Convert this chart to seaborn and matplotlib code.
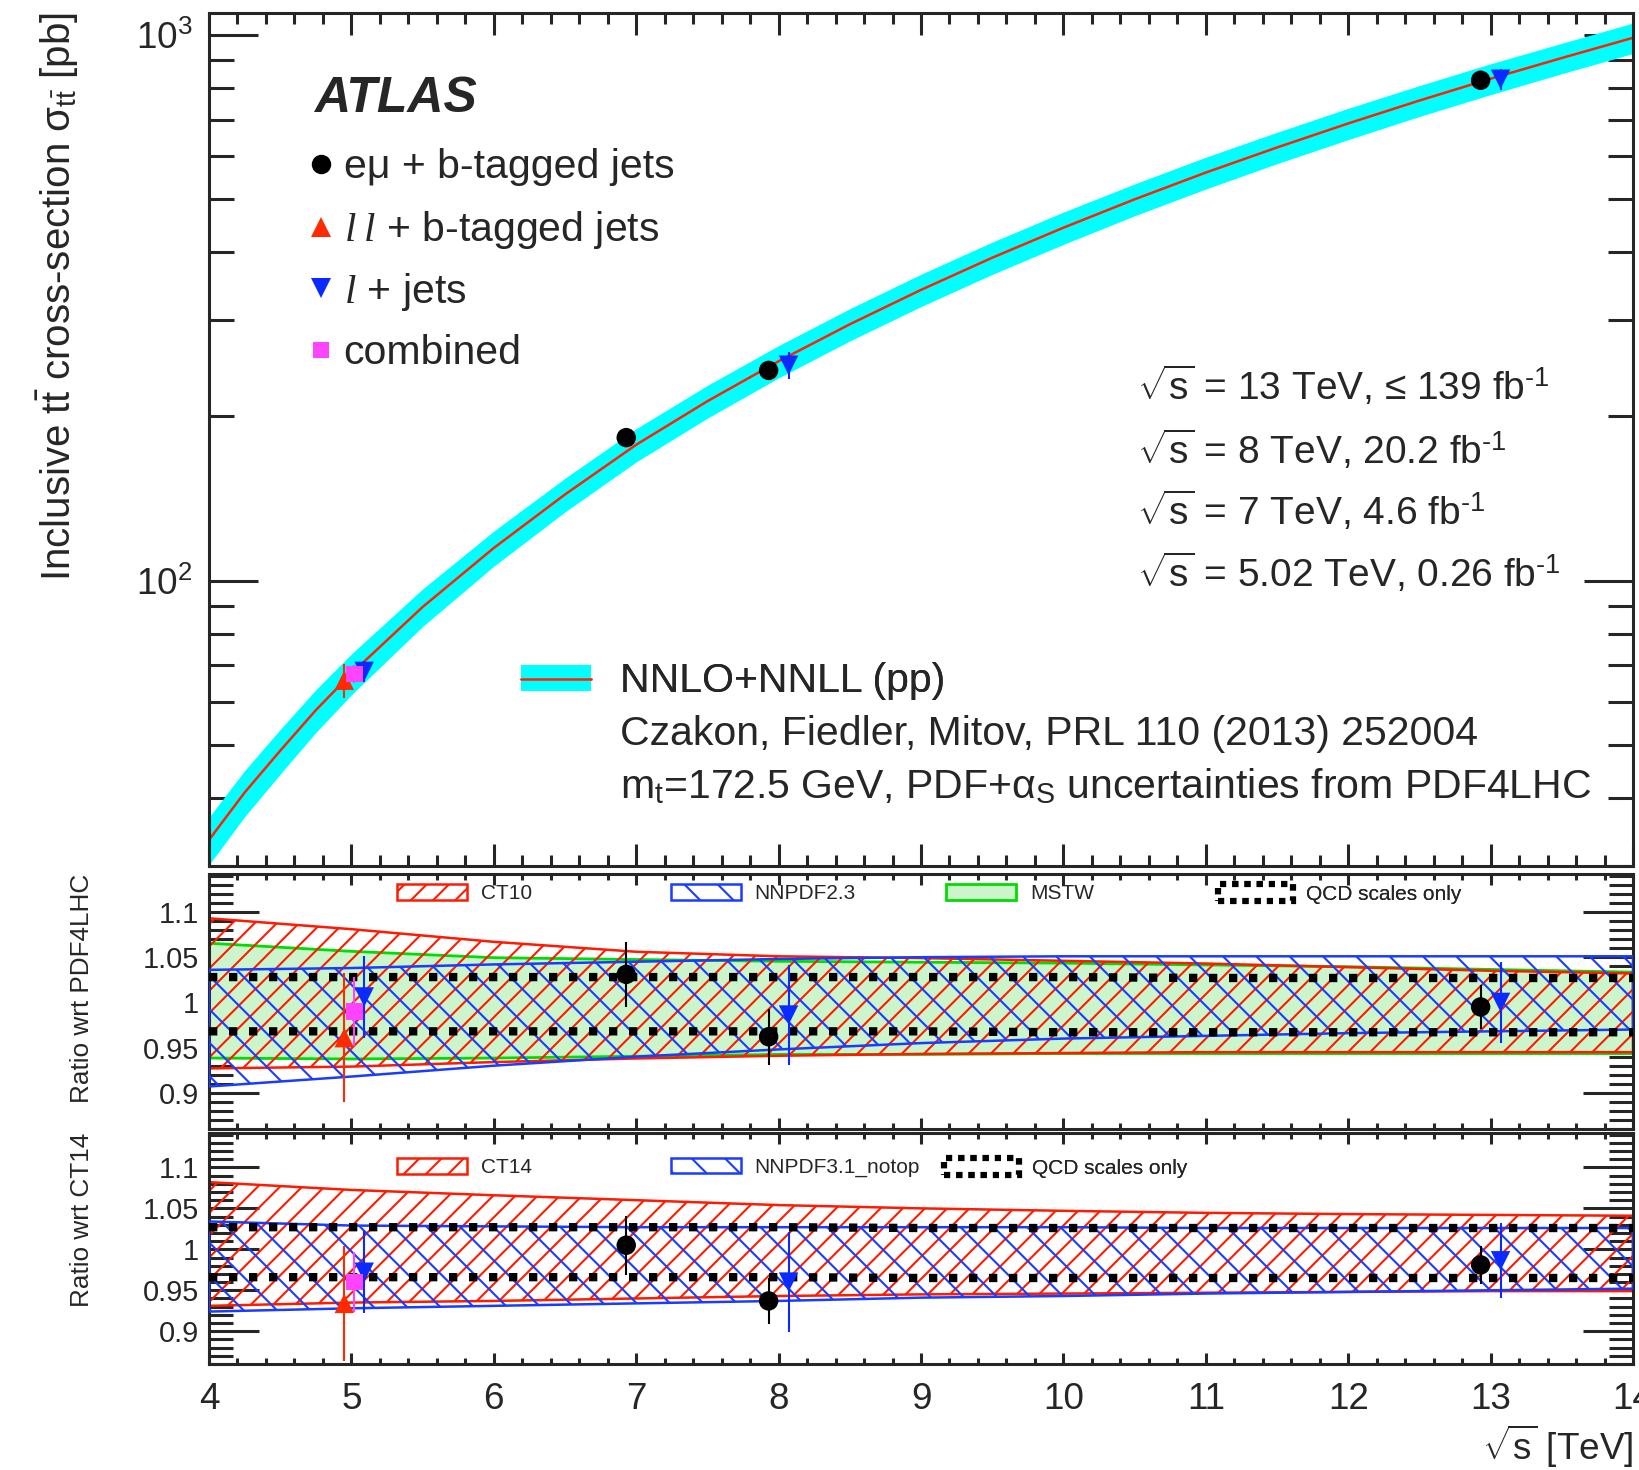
import matplotlib
matplotlib.use("Agg")
import matplotlib.pyplot as plt
import seaborn as sns
import numpy as np
import pandas as pd
from matplotlib.lines import Line2D
from matplotlib.patches import Patch
from matplotlib.legend_handler import HandlerTuple
from matplotlib.ticker import (LogLocator, MultipleLocator, FixedLocator,
                               NullFormatter, FuncFormatter)

# ------------------------------------------------------------------ data
theory_sqrts = [4.0, 4.25, 4.5, 4.75, 5.0, 5.5, 6.0, 6.5, 7.0, 7.5, 8.0, 8.5, 9.0,
                9.5, 10.0, 10.5, 11.0, 11.5, 12.0, 12.5, 13.0, 13.5, 14.0]
theory_xsec = [33.5, 40.9, 48.8, 57.9, 67.6, 89.5, 114.8, 143.9, 177.5, 213.3,
               252.5, 295.1, 341.2, 390.8, 443.6, 500.0, 559.8, 622.3, 688.7,
               758.6, 831.8, 907.8, 988.6]
theory_rel_unc = [0.100, 0.097, 0.094, 0.090, 0.086, 0.079, 0.074, 0.071, 0.070,
                  0.069, 0.068, 0.068, 0.068, 0.068, 0.068, 0.067, 0.067, 0.066,
                  0.066, 0.065, 0.065, 0.064, 0.064]

emu_sqrts = [7.0, 8.0, 13.0]
emu_xsec = [182.9, 242.9, 826.4]
emu_xsec_err = [6.6, 7.6, 20.0]
emu_ratio_pdf4lhc = [1.031, 0.962, 0.995]
emu_ratio_pdf4lhc_err = [0.036, 0.031, 0.024]
emu_ratio_ct14 = [1.005, 0.937, 0.981]
emu_ratio_ct14_err = [0.036, 0.028, 0.023]

ll_sqrts = [5.02]
ll_xsec = [65.7]
ll_xsec_err = [4.7]
ll_ratio_pdf4lhc = [0.961]
ll_ratio_pdf4lhc_err = [0.071]
ll_ratio_ct14 = [0.934]
ll_ratio_ct14_err = [0.070]

ljets_sqrts = [5.02, 8.0, 13.0]
ljets_xsec = [68.2, 248.3, 830.0]
ljets_xsec_err = [3.1, 13.7, 37.0]
ljets_ratio_pdf4lhc = [1.006, 0.986, 1.000]
ljets_ratio_pdf4lhc_err = [0.045, 0.055, 0.045]
ljets_ratio_ct14 = [0.972, 0.960, 0.986]
ljets_ratio_ct14_err = [0.050, 0.061, 0.046]

comb_sqrts = [5.02]
comb_xsec = [67.5]
comb_xsec_err = [2.6]
comb_ratio_pdf4lhc = [0.990]
comb_ratio_pdf4lhc_err = [0.038]
comb_ratio_ct14 = [0.960]
comb_ratio_ct14_err = [0.037]

band_sqrts = [4, 5, 6, 7, 8, 9, 10, 11, 12, 13, 14]
# ratio wrt PDF4LHC
ct10_hi = [1.093, 1.081, 1.067, 1.056, 1.051, 1.049, 1.046, 1.043, 1.039, 1.035, 1.032]
ct10_lo = [0.927, 0.929, 0.934, 0.938, 0.941, 0.943, 0.944, 0.945, 0.945, 0.945, 0.945]
nnpdf23_hi = [1.036, 1.038, 1.042, 1.045, 1.048, 1.050, 1.051, 1.051, 1.051, 1.051, 1.051]
nnpdf23_lo = [0.907, 0.918, 0.930, 0.940, 0.948, 0.955, 0.960, 0.963, 0.966, 0.968, 0.970]
mstw_hi = [1.066, 1.057, 1.050, 1.048, 1.046, 1.045, 1.044, 1.042, 1.040, 1.037, 1.034]
mstw_lo = [0.939, 0.938, 0.939, 0.941, 0.943, 0.943, 0.944, 0.944, 0.944, 0.944, 0.944]
qcd1_hi = [1.028, 1.028, 1.028, 1.028, 1.028, 1.028, 1.028, 1.027, 1.027, 1.027, 1.027]
qcd1_lo = [0.968, 0.968, 0.968, 0.968, 0.968, 0.968, 0.967, 0.967, 0.967, 0.967, 0.967]
# ratio wrt CT14
ct14_hi = [1.082, 1.0725, 1.066, 1.060, 1.054, 1.050, 1.047, 1.0445, 1.043, 1.042, 1.041]
ct14_lo = [0.931, 0.935, 0.937, 0.940, 0.943, 0.945, 0.946, 0.947, 0.948, 0.949, 0.949]
nnpdf31_hi = [1.034, 1.029, 1.028, 1.027, 1.027, 1.027, 1.027, 1.026, 1.026, 1.026, 1.026]
nnpdf31_lo = [0.924, 0.928, 0.931, 0.934, 0.937, 0.941, 0.943, 0.946, 0.948, 0.950, 0.952]
qcd2_hi = [1.027, 1.027, 1.027, 1.027, 1.027, 1.026, 1.026, 1.026, 1.026, 1.026, 1.026]
qcd2_lo = [0.966, 0.966, 0.966, 0.966, 0.966, 0.965, 0.965, 0.965, 0.965, 0.965, 0.965]

# ------------------------------------------------------------------ style
CYAN = "#00ffff"
THRED = "#ff2200"
RED = "#ff2a00"
BLUE = "#0a2aff"
MAG = "#ff44ff"
HRED = "#ff1a00"
HBLUE = "#1a3cff"
GREEN = "#00dd00"
LGREEN = "#ccf5cc"
RED_HATCH = "///"
BLUE_HATCH = "\\\\"

offsets = {"emu": -0.07, "ll": -0.07, "ljets": 0.07, "comb": 0.0}
mstyle = {
    "emu": dict(marker="o", color="black", ms=7.0),
    "ll": dict(marker="^", color=RED, ms=7.0),
    "ljets": dict(marker="v", color=BLUE, ms=7.0),
    "comb": dict(marker="s", color=MAG, ms=6.0),
}

sns.set_theme(style="ticks")
plt.rcParams["font.family"] = ["Liberation Sans", "DejaVu Sans"]
plt.rcParams["mathtext.fontset"] = "custom"
plt.rcParams["mathtext.rm"] = "Liberation Sans"
plt.rcParams["mathtext.it"] = "Liberation Serif:italic"
plt.rcParams["mathtext.bf"] = "Liberation Sans:bold"
plt.rcParams["hatch.linewidth"] = 0.75
plt.rcParams["axes.linewidth"] = 1.1

DPI = 200
fig = plt.figure(figsize=(1639 / DPI, 1470 / DPI), dpi=DPI)
L, W = 209 / 1639, 1424 / 1639
ax0 = fig.add_axes([L, 1 - 866 / 1470, W, (866 - 12.5) / 1470])
ax1 = fig.add_axes([L, 1 - 1129 / 1470, W, 255 / 1470])
ax2 = fig.add_axes([L, 1 - 1364 / 1470, W, 231 / 1470])


def draw_points(ax, xs, ys, errs, key):
    st = mstyle[key]
    x = np.asarray(xs, dtype=float) + offsets[key]
    ax.errorbar(x, ys, yerr=errs, fmt="none", ecolor=st["color"],
                elinewidth=0.75, capsize=0, zorder=5)
    sns.scatterplot(x=x, y=ys, ax=ax, marker=st["marker"], s=st["ms"] ** 2,
                    color=st["color"], edgecolor="none", linewidth=0,
                    zorder=6, legend=False)


# ------------------------------------------------------------------ main panel
ax0.set_yscale("log")
th = pd.DataFrame({"sqrts": theory_sqrts, "xsec": theory_xsec,
                   "rel": theory_rel_unc})
ax0.fill_between(th["sqrts"], th["xsec"] * (1 - th["rel"]),
                 th["xsec"] * (1 + th["rel"]), color=CYAN, lw=0, zorder=1)
sns.lineplot(data=th, x="sqrts", y="xsec", ax=ax0, color=THRED, lw=0.9,
             zorder=2, sort=True)

draw_points(ax0, emu_sqrts, emu_xsec, emu_xsec_err, "emu")
draw_points(ax0, ll_sqrts, ll_xsec, ll_xsec_err, "ll")
draw_points(ax0, ljets_sqrts, ljets_xsec, ljets_xsec_err, "ljets")
draw_points(ax0, comb_sqrts, comb_xsec, comb_xsec_err, "comb")

ax0.set_xlim(4, 14)
ax0.set_ylim(30, 1100)
ax0.yaxis.set_major_locator(LogLocator(base=10, numticks=10))
ax0.yaxis.set_minor_locator(LogLocator(base=10, subs=np.arange(2, 10), numticks=20))
ax0.yaxis.set_minor_formatter(NullFormatter())
ax0.xaxis.set_major_locator(MultipleLocator(1))
ax0.xaxis.set_minor_locator(MultipleLocator(0.2))
ax0.tick_params(axis="y", which="major", direction="in", length=17.6, width=1.1,
                left=True, right=True, labelsize=13.3, pad=6)
ax0.tick_params(axis="y", which="minor", direction="in", length=9, width=1.1,
                left=True, right=True)
ax0.tick_params(axis="x", which="major", direction="in", length=7.9, width=1.1,
                top=True, bottom=True, labelbottom=False)
ax0.tick_params(axis="x", which="minor", direction="in", length=4, width=1.1,
                top=True, bottom=True)
ax0.set_xlabel("")
ax0.set_ylabel(r"Inclusive $\mathrm{t\bar{t}}$ cross-section σ$_{\mathrm{t\bar{t}}}$ [pb]",
               fontsize=14.5, loc="top")
ax0.yaxis.set_label_coords(-0.090, 1.0)

# ATLAS label and legend
ax0.text(0.0735, 0.8987, "ATLAS", transform=ax0.transAxes, fontsize=18,
         fontweight="bold", fontstyle="italic", va="center", ha="left")

main_entries = [
    ("emu", "eμ + b-tagged jets", 0.8188),
    ("ll", r"$\mathit{l\;l}$ + b-tagged jets", 0.7450),
    ("ljets", r"$\mathit{l}$ + jets", 0.6729),
    ("comb", "combined", 0.6009),
]
for key, lab, yy in main_entries:
    st = mstyle[key]
    h = Line2D([], [], ls="none", marker=st["marker"], color=st["color"],
               markersize=st["ms"], markeredgewidth=0)
    lg = ax0.legend([h], [lab], loc="center left", bbox_to_anchor=(0.070, yy),
                    bbox_transform=ax0.transAxes, frameon=False, borderpad=0,
                    borderaxespad=0, handlelength=0.6, handletextpad=0.25,
                    fontsize=14.75)
    ax0.add_artist(lg)

h_th = (Patch(facecolor=CYAN, edgecolor="none"),
        Line2D([], [], color=THRED, lw=0.9))
lg = ax0.legend([h_th], ["NNLO+NNLL (pp)"], loc="center left",
                bbox_to_anchor=(0.2188, 0.2162), bbox_transform=ax0.transAxes,
                frameon=False, borderpad=0, borderaxespad=0,
                handlelength=1.71, handleheight=0.63, handletextpad=0.72,
                fontsize=14.75, handler_map={tuple: HandlerTuple(ndivide=1)})
ax0.add_artist(lg)
ax0.text(0.2886, 0.1547, "Czakon, Fiedler, Mitov, PRL 110 (2013) 252004",
         transform=ax0.transAxes, fontsize=14.75, va="center", ha="left")
ax0.text(0.2886, 0.0937,
         r"m$_{\mathrm{t}}$=172.5 GeV, PDF+α$_{\mathrm{S}}$ uncertainties from PDF4LHC",
         transform=ax0.transAxes, fontsize=14.75, va="center", ha="left")

lumi_lines = [
    (r"$\sqrt{\mathrm{s}}$ = 13 TeV, ≤ 139 fb$^{\text{-1}}$", 0.5628),
    (r"$\sqrt{\mathrm{s}}$ = 8 TeV, 20.2 fb$^{\text{-1}}$", 0.488),
    (r"$\sqrt{\mathrm{s}}$ = 7 TeV, 4.6 fb$^{\text{-1}}$", 0.416),
    (r"$\sqrt{\mathrm{s}}$ = 5.02 TeV, 0.26 fb$^{\text{-1}}$", 0.3433),
]
for txt, yy in lumi_lines:
    ax0.text(0.6517, yy, txt, transform=ax0.transAxes, fontsize=14.0,
             va="center", ha="left")


# ------------------------------------------------------------------ ratio panels
def setup_ratio(ax, ylabel):
    ax.set_xlim(4, 14)
    ax.set_ylim(0.86, 1.142)
    ax.yaxis.set_major_locator(FixedLocator([0.9, 0.95, 1.0, 1.05, 1.1]))
    ax.yaxis.set_major_formatter(FuncFormatter(lambda v, p: f"{v:g}"))
    ax.yaxis.set_minor_locator(MultipleLocator(0.01))
    ax.xaxis.set_major_locator(MultipleLocator(1))
    ax.xaxis.set_minor_locator(MultipleLocator(0.2))
    ax.tick_params(axis="y", which="major", direction="in", length=18, width=1.1,
                   left=True, right=True, labelsize=10.4, pad=3.7)
    ax.tick_params(axis="y", which="minor", direction="in", length=8.5, width=1.1,
                   left=True, right=True)
    ax.tick_params(axis="x", which="major", direction="in", length=4.1, width=1.1,
                   top=True, bottom=True, labelsize=13.3, pad=6.5)
    ax.tick_params(axis="x", which="minor", direction="in", length=2.3, width=1.1,
                   top=True, bottom=True)
    ax.set_ylabel(ylabel, fontsize=9.4, loc="top")
    ax.yaxis.set_label_coords(-0.081, 1.0)
    ax.set_xlabel("")


def hatch_band(ax, lo, hi, color, hatch, z):
    ax.fill_between(band_sqrts, lo, hi, facecolor="none", edgecolor=color,
                    hatch=hatch, lw=0.9, zorder=z)


def qcd_lines(ax, lo, hi):
    for yy in (lo, hi):
        ax.plot(band_sqrts, yy, color="black", lw=3.0, ls=(0, (1, 1.4)),
                dash_capstyle="butt", zorder=4)


def small_legend(ax, handle, label, x, y, hl=3.37, hh=0.75):
    lg = ax.legend([handle], [label], loc="center left", bbox_to_anchor=(x, y),
                   bbox_transform=ax.transAxes, frameon=False, borderpad=0,
                   borderaxespad=0, handlelength=hl, handleheight=hh,
                   handletextpad=0.65, fontsize=7.5)
    ax.add_artist(lg)


# panel 1: wrt PDF4LHC
ax1.fill_between(band_sqrts, mstw_lo, mstw_hi, facecolor=LGREEN,
                 edgecolor=GREEN, lw=1.0, zorder=1)
hatch_band(ax1, ct10_lo, ct10_hi, HRED, RED_HATCH, 2)
hatch_band(ax1, nnpdf23_lo, nnpdf23_hi, HBLUE, BLUE_HATCH, 3)
qcd_lines(ax1, qcd1_lo, qcd1_hi)
draw_points(ax1, emu_sqrts, emu_ratio_pdf4lhc, emu_ratio_pdf4lhc_err, "emu")
draw_points(ax1, ll_sqrts, ll_ratio_pdf4lhc, ll_ratio_pdf4lhc_err, "ll")
draw_points(ax1, ljets_sqrts, ljets_ratio_pdf4lhc, ljets_ratio_pdf4lhc_err, "ljets")
draw_points(ax1, comb_sqrts, comb_ratio_pdf4lhc, comb_ratio_pdf4lhc_err, "comb")
setup_ratio(ax1, "Ratio wrt PDF4LHC")
ax1.tick_params(axis="x", labelbottom=False)

small_legend(ax1, Patch(facecolor="none", edgecolor=HRED, hatch=RED_HATCH, lw=0.9),
             "CT10", 0.1322, 0.9227)
small_legend(ax1, Patch(facecolor="none", edgecolor=HBLUE, hatch=BLUE_HATCH, lw=0.9),
             "NNPDF2.3", 0.3244, 0.9227)
small_legend(ax1, Patch(facecolor=LGREEN, edgecolor=GREEN, lw=1.0),
             "MSTW", 0.5176, 0.9227)
small_legend(ax1, Patch(facecolor="none", edgecolor="black", lw=2.2, ls=(0, (1, 1))),
             "QCD scales only", 0.7084, 0.9227, hl=3.6, hh=0.9)

# panel 2: wrt CT14
hatch_band(ax2, ct14_lo, ct14_hi, HRED, RED_HATCH, 2)
hatch_band(ax2, nnpdf31_lo, nnpdf31_hi, HBLUE, BLUE_HATCH, 3)
qcd_lines(ax2, qcd2_lo, qcd2_hi)
draw_points(ax2, emu_sqrts, emu_ratio_ct14, emu_ratio_ct14_err, "emu")
draw_points(ax2, ll_sqrts, ll_ratio_ct14, ll_ratio_ct14_err, "ll")
draw_points(ax2, ljets_sqrts, ljets_ratio_ct14, ljets_ratio_ct14_err, "ljets")
draw_points(ax2, comb_sqrts, comb_ratio_ct14, comb_ratio_ct14_err, "comb")
setup_ratio(ax2, "Ratio wrt CT14")
ax2.set_xlabel(r"$\sqrt{\mathrm{s}}$ [TeV]", fontsize=13.3, loc="right", labelpad=2)

small_legend(ax2, Patch(facecolor="none", edgecolor=HRED, hatch=RED_HATCH, lw=0.9),
             "CT14", 0.1322, 0.850)
small_legend(ax2, Patch(facecolor="none", edgecolor=HBLUE, hatch=BLUE_HATCH, lw=0.9),
             "NNPDF3.1_notop", 0.3244, 0.850)
small_legend(ax2, Patch(facecolor="none", edgecolor="black", lw=2.2, ls=(0, (1, 1))),
             "QCD scales only", 0.516, 0.850, hl=3.6, hh=0.9)

for a in (ax0, ax1, ax2):
    for s in a.spines.values():
        s.set_linewidth(1.1)
        s.set_visible(True)

fig.savefig("out.png", dpi=DPI)
